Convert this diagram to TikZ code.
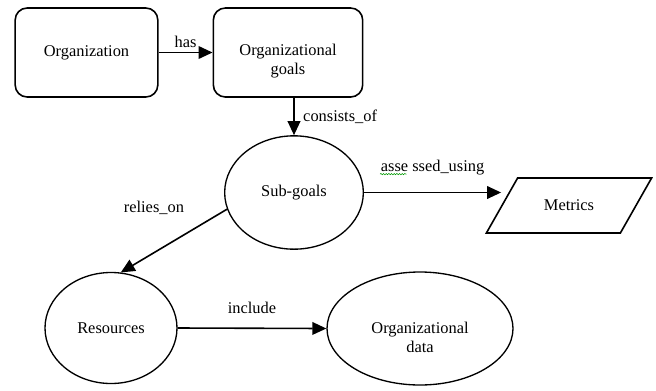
\documentclass[tikz,border=0pt]{standalone}
\usepackage{fontspec}
\setmainfont{Liberation Serif}
\usetikzlibrary{shapes,arrows.meta,positioning,decorations.pathmorphing}

\newcommand{\toppad}{\rule{0pt}{22pt}}

\begin{document}
\begin{tikzpicture}[
    x=0.75pt, y=-0.75pt,
    every node/.style={font=\fontsize{12.3}{14.3}\selectfont},
    block/.style={rectangle, draw, rounded corners=9pt, line width=1.2pt, minimum width=107pt, minimum height=66.75pt, align=center},
    bubble/.style={ellipse, draw, line width=1pt, align=center},
    slanted/.style={trapezium, trapezium left angle=48, trapezium right angle=132, trapezium stretches=true, draw, line width=1.2pt, minimum width=124.5pt, minimum height=41.25pt},
    rel/.style={draw, line width=1.2pt, -{Triangle[length=10.5pt, width=9.5pt]}}
]
\useasboundingbox (0,0) rectangle (656,390);

\node[block] (org) at (86.5,52.5) {Organization};
\node[block, minimum width=112pt] (goals) at (288,52.5) {\toppad Organizational\\goals};
\node[bubble, minimum width=104pt, minimum height=85pt] (sub) at (294,192.5) {Sub-goals};
\node[slanted] (metrics) at (569,205.5) {Metrics};
\node[bubble, minimum width=99pt, minimum height=83.25pt] (res) at (111,328) {Resources};
\node[bubble, minimum width=139.5pt, minimum height=84.75pt] (data) at (420,328.5) {\toppad Organizational\\data};

\draw[rel] (org) -- node[above] {has} (goals);
\draw[rel] (goals.south -| sub.north) -- node[right=3pt] {consists\_of} (sub.north);
\draw[rel] (sub.east) -- node[above=9pt] (assessed) {asse ssed\_using} (metrics.west |- sub.east);
\draw[rel] (sub.194) -- node[xshift=-15pt, yshift=25pt] {relies\_on} (res.80);
\draw[rel] (res.east) -- node[above=7pt] {include} (data.west);

% spell-check squiggle under the label
\draw[green!60!black, line width=0.4pt, decorate, decoration={snake, amplitude=0.5pt, segment length=2pt}]
    ([xshift=3.3pt, yshift=-1.8pt]assessed.base west) -- ++(20pt,0);
\end{tikzpicture}
\end{document}
